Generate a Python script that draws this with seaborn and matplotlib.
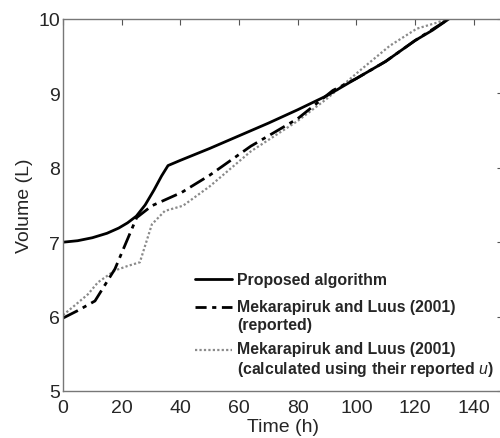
import matplotlib
matplotlib.use("Agg")
import matplotlib.pyplot as plt
import seaborn as sns
import pandas as pd

# Proposed algorithm
t_prop = [0, 5, 10, 15, 19, 22, 25, 28, 31, 33.6, 35.8, 40, 50, 60, 70, 80, 90, 100, 110, 120, 126, 131.5]
v_prop = [7.0, 7.02, 7.06, 7.12, 7.19, 7.26, 7.35, 7.5, 7.7, 7.89, 8.03, 8.1, 8.26, 8.43, 8.6, 8.78, 8.97, 9.2, 9.43, 9.71, 9.85, 10.0]

# Mekarapiruk and Luus (2001) reported
t_rep = [0, 5, 10.9, 17.7, 25.1, 30.3, 40.5, 50, 64, 80, 92, 100, 110, 120, 131.5]
v_rep = [5.98, 6.08, 6.21, 6.64, 7.33, 7.49, 7.67, 7.9, 8.29, 8.66, 9.04, 9.2, 9.43, 9.71, 10.0]

# Mekarapiruk and Luus (2001) calculated
t_calc = [0, 4, 8.5, 11.9, 17.7, 22, 26.2, 30.3, 34.7, 40.9, 50, 64, 80, 90, 101, 111.4, 120.6, 127.4, 131, 135]
v_calc = [6.02, 6.15, 6.3, 6.46, 6.62, 6.68, 6.73, 7.24, 7.42, 7.49, 7.75, 8.22, 8.63, 8.93, 9.3, 9.64, 9.87, 9.95, 10.0, 10.05]

label_prop = "Proposed algorithm"
label_rep = "Mekarapiruk and Luus (2001)\n(reported)"
label_calc = "Mekarapiruk and Luus (2001)\n(calculated using their reported $\\mathit{u}$)"

xticks = [0, 20, 40, 60, 80, 100, 120, 140]
yticks = [5, 6, 7, 8, 9, 10]

sns.set_style("white")
plt.rcParams['font.family'] = ['Liberation Sans', 'DejaVu Sans']
plt.rcParams['mathtext.fontset'] = 'custom'
plt.rcParams['mathtext.it'] = 'Liberation Sans:italic'

fig = plt.figure(figsize=(5.0, 4.39), dpi=100)
ax = fig.add_axes([63/500, (439-392)/439, (503-63)/500, (392-20)/439])

df_prop = pd.DataFrame({"t": t_prop, "v": v_prop})
df_rep = pd.DataFrame({"t": t_rep, "v": v_rep})
df_calc = pd.DataFrame({"t": t_calc, "v": v_calc})

dot_style = (0, (1, 1))
dashdot_style = (0, (6, 2, 1.5, 2))
grey = "#8a8a8a"

sns.lineplot(data=df_calc, x="t", y="v", ax=ax, color=grey, lw=1.6,
             linestyle=dot_style, sort=False, estimator=None)
sns.lineplot(data=df_rep, x="t", y="v", ax=ax, color="black", lw=2.0,
             linestyle=dashdot_style, sort=False, estimator=None)
sns.lineplot(data=df_prop, x="t", y="v", ax=ax, color="black", lw=2.0,
             sort=False, estimator=None)

ax.set_xlim(0, 150)
ax.set_ylim(5, 10)
ax.set_xticks(xticks)
ax.set_yticks(yticks)
ax.tick_params(direction="in", top=True, right=True, length=4, width=0.8,
               labelsize=14, color="#555555")
ax.tick_params(axis="x", pad=6)
ax.tick_params(axis="y", pad=2)
for s in ax.spines.values():
    s.set_color("#777777")
    s.set_linewidth(1.0)
ax.set_xlabel("Time (h)", fontsize=14, labelpad=1)
ax.set_ylabel("Volume (L)", fontsize=14, labelpad=4)

# legend (manual, handles aligned with first text line, no frame)
def ax_y(py):
    return (392 - py) / 372

def ax_x(px):
    return (px - 63) / 440

hx0, hx1, tx = ax_x(195), ax_x(232), ax_x(237)
fs = 11.4
ax.plot([hx0, hx1], [ax_y(280)] * 2, transform=ax.transAxes, color="black", lw=2.0)
ax.plot([hx0, hx1], [ax_y(308)] * 2, transform=ax.transAxes, color="black", lw=2.0,
        linestyle=(0, (4, 2, 1.5, 2)))
ax.plot([hx0, hx1], [ax_y(351)] * 2, transform=ax.transAxes, color=grey, lw=1.6,
        linestyle=dot_style)
ax.text(tx, ax_y(280), label_prop, transform=ax.transAxes, fontsize=fs,
        fontweight="bold", va="center", ha="left")
ax.text(tx, ax_y(316.5), label_rep, transform=ax.transAxes, fontsize=fs,
        fontweight="bold", va="center", ha="left", linespacing=1.2)
ax.text(tx, ax_y(360.5), label_calc, transform=ax.transAxes, fontsize=fs,
        fontweight="bold", va="center", ha="left", linespacing=1.2)

fig.savefig("out.png", dpi=100)
